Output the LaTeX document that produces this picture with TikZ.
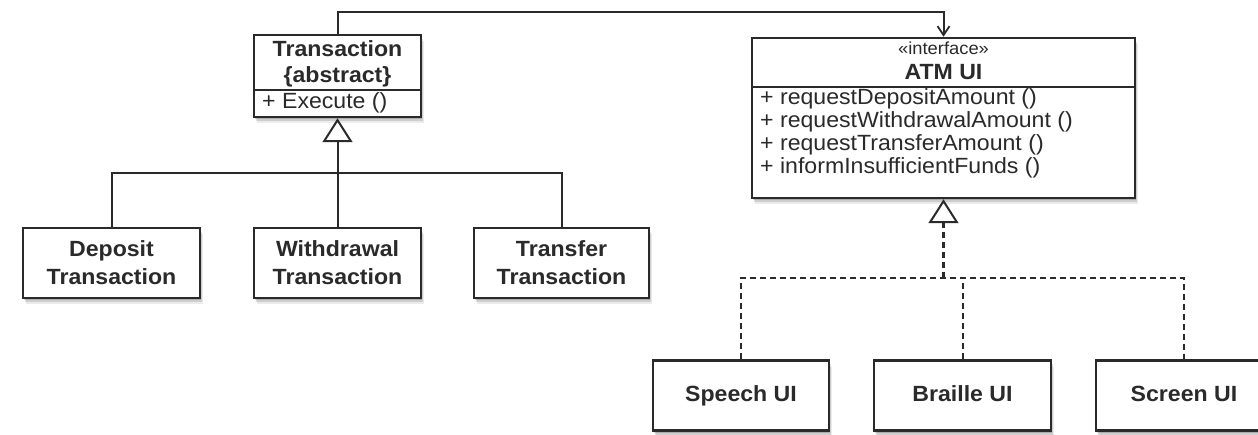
\documentclass[tikz,border=0pt]{standalone}
\usepackage{fontspec}
\setmainfont{Liberation Sans}[FakeStretch=1.05]
\usetikzlibrary{shadows,arrows.meta}
\definecolor{ink}{HTML}{2A2A2A}

\begin{document}
\begin{tikzpicture}[x=1pt,y=-1pt,
  softshadow/.style={
    general shadow={fill=black,opacity=.16,shadow xshift=1pt,shadow yshift=-2pt},
    general shadow={fill=black,opacity=.12,shadow xshift=2pt,shadow yshift=-4pt},
    general shadow={fill=black,opacity=.08,shadow xshift=3pt,shadow yshift=-6.5pt}},
  umlbox/.style={rectangle,draw=ink,line width=2.5pt,fill=white,inner sep=0pt,softshadow},
  smallbox/.style={umlbox,minimum height=70pt},
  lbl/.style={inner sep=0pt,text=ink,font=\fontsize{22}{22}\selectfont\bfseries,anchor=base},
  op/.style={inner sep=0pt,text=ink,font=\fontsize{22}{22}\selectfont,anchor=base west},
  stereo/.style={inner sep=0pt,text=ink,font=\fontsize{17.5}{17.5}\selectfont,anchor=base},
  conn/.style={draw=ink,line width=2pt},
  realize/.style={conn,dash pattern=on 6pt off 4pt},
  gen/.style={-{Triangle[open,length=24pt,width=30pt,line width=2pt]}},
  dep/.style={-{Straight Barb[length=9pt,width=12pt,line width=1.8pt]}}
]
\clip (0,0) rectangle (1258,435);
\fill[white] (0,0) rectangle (1258,435);

% ---- abstract class and its subclasses ----
\node[umlbox,minimum width=167pt,minimum height=82pt] (trans) at (337.5,76) {};
\draw[conn] (trans.west |- 0,90) -- (trans.east |- 0,90);
\node[lbl] (transName) at (337.5,57) {Transaction};
\node[lbl] (transAbs) at (337.5,83) {\{abstract\}};
\node[op] (transOp) at (262,109) {+ Execute ()};

\node[smallbox,minimum width=177pt] (dep) at (111.5,263) {};
\node[smallbox,minimum width=167pt] (wd) at (337.5,263) {};
\node[smallbox,minimum width=175pt] (tr) at (561.5,263) {};
\node[lbl] (depA) at (111.5,257) {Deposit};
\node[lbl] (depB) at (111.5,285) {Transaction};
\node[lbl] (wdA) at (337.5,257) {Withdrawal};
\node[lbl] (wdB) at (337.5,285) {Transaction};
\node[lbl] (trA) at (561.5,257) {Transfer};
\node[lbl] (trB) at (561.5,285) {Transaction};

% ---- interface and its realizations ----
\node[umlbox,minimum width=383pt,minimum height=160pt] (atm) at (943.5,118) {};
\draw[conn] (atm.west |- 0,87) -- (atm.east |- 0,87);
\node[stereo] (atmStereo) at (943.5,55) {«interface»};
\node[lbl] (atmName) at (943.5,80) {ATM UI};
\node[op] (atmOp1) at (760,105) {+ requestDepositAmount ()};
\node[op] (atmOp2) at (760,128) {+ requestWithdrawalAmount ()};
\node[op] (atmOp3) at (760,151) {+ requestTransferAmount ()};
\node[op] (atmOp4) at (760,174) {+ informInsufficientFunds ()};

\node[smallbox,minimum width=176pt] (sp) at (741,395.5) {};
\node[smallbox,minimum width=177pt] (br) at (962.5,395.5) {};
\node[smallbox,minimum width=176pt] (scr) at (1184,395.5) {};
\node[lbl] (spName) at (741,402) {Speech UI};
\node[lbl] (brName) at (962.5,402) {Braille UI};
\node[lbl] (scrName) at (1184,402) {Screen UI};

% ---- connectors ----
\draw[conn,dep] (trans.north) -- (trans.north |- 0,12) -| (atm.north);

\draw[conn,gen] (wd.north) -- (trans.south);
\draw[conn] (dep.north) |- (tr.north |- 0,173) -- (tr.north);

\coordinate (jn) at (atm.south |- 0,278);
\draw[realize,line width=2.4pt,gen] (jn) -- (atm.south);
\draw[realize] (sp.north) |- (scr.north |- jn) -- (scr.north);
\draw[realize] (br.north) -- (br.north |- jn);
\end{tikzpicture}
\end{document}
